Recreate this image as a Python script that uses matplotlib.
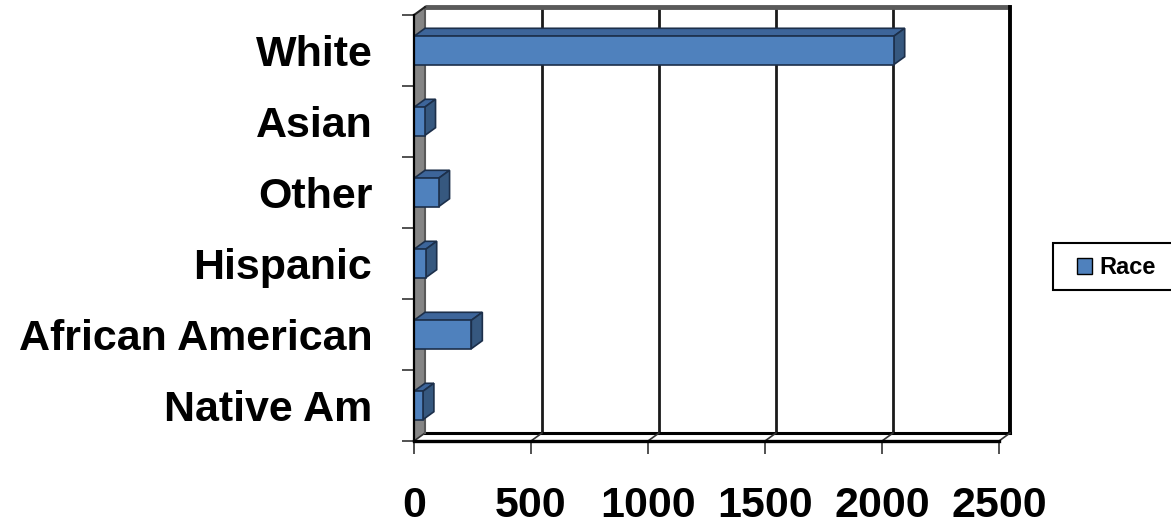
"""
Race breakdown shown as an Excel-style 3D horizontal bar chart
"""

import matplotlib
matplotlib.use('Agg')
import matplotlib.pyplot as plt
from matplotlib.patches import Polygon, Rectangle

# Chart data (bottom to top)
categories = ['Native Am', 'African American', 'Hispanic', 'Other', 'Asian', 'White']
counts = [38, 245, 50, 105, 45, 2050]
series_name = 'Race'
x_ticks = [0, 500, 1000, 1500, 2000, 2500]

plt.rcParams['font.family'] = ['Liberation Sans', 'DejaVu Sans']

W, H, DPI = 1171, 526, 100
fig = plt.figure(figsize=(W / DPI, H / DPI), dpi=DPI)

# Front plane of the plot box, in pixels
left_px, right_px = 414, 999
top_px, bottom_px = 15, 441
ax = fig.add_axes([left_px / W, (H - bottom_px) / H,
                   (right_px - left_px) / W, (bottom_px - top_px) / H])

xmax = x_ticks[-1]
ylo, yhi = -0.5, len(categories) - 0.5
ax.set_xlim(0, xmax)
ax.set_ylim(ylo, yhi)

# Depth of the 3D box, converted from pixels to data units
dx = 11 * xmax / (right_px - left_px)
dy = 8 * (yhi - ylo) / (bottom_px - top_px)

bar_col = '#4F81BD'
top_col = '#3D659A'
side_col = '#36587F'
edge_col = '#1C2F4A'

# Left wall (the "floor" of a horizontal bar chart)
ax.add_patch(Polygon([(0, ylo), (dx, ylo + dy), (dx, yhi + dy), (0, yhi)],
                     closed=True, facecolor='#858585', edgecolor='none',
                     clip_on=False, zorder=1))
ax.plot([dx, dx], [ylo + dy, yhi + dy], color='#5a5a5a', lw=1.5,
        clip_on=False, zorder=1.5)
ax.plot([0, dx], [yhi, yhi + dy], color='#222222', lw=1.5,
        clip_on=False, zorder=1.5)

# Back wall gridlines and box outline
for xv in x_ticks[1:-1]:
    ax.plot([xv + dx, xv + dx], [ylo + dy, yhi + dy], color='#1a1a1a',
            lw=2.0, clip_on=False, zorder=1)
ax.plot([dx, xmax + dx], [yhi + dy, yhi + dy], color='#5a5a5a', lw=3.5,
        solid_capstyle='butt', clip_on=False, zorder=1)
ax.plot([xmax + dx, xmax + dx], [ylo + dy, yhi + dy], color='black', lw=2.8,
        clip_on=False, zorder=1)

# Bottom wall: back edge, right edge and small diagonals at the ticks
ax.plot([dx, xmax + dx], [ylo + dy, ylo + dy], color='black', lw=2.2,
        clip_on=False, zorder=1)
for xv in x_ticks:
    ax.plot([xv, xv + dx], [ylo, ylo + dy], color='#333333', lw=1.2,
            clip_on=False, zorder=1.2)

# Bars: front faces through barh, then top and side faces
bar_h = 0.4
ypos = list(range(len(categories)))
ax.barh(ypos, counts, height=bar_h, color=bar_col, edgecolor=edge_col,
        linewidth=1.2, zorder=3, label=series_name)
for yc, v in zip(ypos, counts):
    y0, y1 = yc - bar_h / 2, yc + bar_h / 2
    ax.add_patch(Polygon([(0, y1), (v, y1), (v + dx, y1 + dy), (dx, y1 + dy)],
                         closed=True, facecolor=top_col, edgecolor=edge_col,
                         lw=1.2, clip_on=False, zorder=2.9))
    ax.add_patch(Polygon([(v, y0), (v + dx, y0 + dy), (v + dx, y1 + dy), (v, y1)],
                         closed=True, facecolor=side_col, edgecolor=edge_col,
                         lw=1.2, clip_on=False, zorder=2.9))

# Axes styling
for side in ['top', 'right']:
    ax.spines[side].set_visible(False)
ax.spines['left'].set_linewidth(1.6)
ax.spines['bottom'].set_linewidth(2.4)
ax.spines['left'].set_zorder(4)
ax.spines['bottom'].set_zorder(4)
ax.set_facecolor('none')

ax.set_xticks(x_ticks)
ax.set_xticklabels([str(t) for t in x_ticks], fontsize=31, fontweight='bold')
ax.tick_params(axis='x', length=9.4, width=1.1, pad=23, color='#222222')

ax.set_yticks(ypos)
ax.set_yticklabels(categories, fontsize=31, fontweight='bold')
ax.tick_params(axis='y', which='major', length=0, pad=30)
ax.set_yticks([y - 0.5 for y in range(len(categories) + 1)], minor=True)
ax.tick_params(axis='y', which='minor', length=8.6, width=1.1, color='#222222')

# Legend box (it runs past the right edge in the original)
fig.patches.append(Rectangle((1053 / W, (H - 290) / H), 140 / W, 47 / H,
                             transform=fig.transFigure, facecolor='white',
                             edgecolor='black', lw=1.5, zorder=0))
handle = Rectangle((0, 0), 1, 1, facecolor=bar_col, edgecolor='black', lw=1)
fig.legend([handle], [series_name], loc='center left',
           bbox_to_anchor=(1077 / W, (H - 267.5) / H), frameon=False,
           borderpad=0, borderaxespad=0, handlelength=0.64, handleheight=0.64,
           handletextpad=0.3, prop={'size': 17, 'weight': 'bold'})

fig.savefig('out.png', dpi=DPI)
